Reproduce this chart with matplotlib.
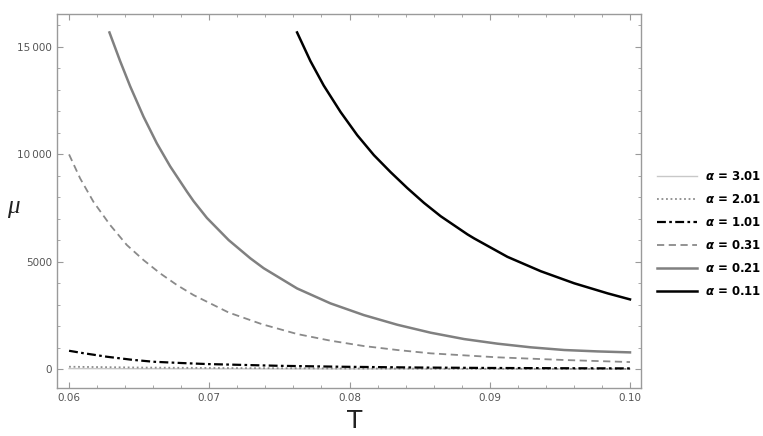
import numpy as np
import matplotlib
matplotlib.use('Agg')
import matplotlib.pyplot as plt
from matplotlib.ticker import FixedLocator, MultipleLocator

# values (T, mu) for each alpha
t_011 = [0.07626, 0.07721, 0.07816, 0.07936, 0.08055, 0.08174, 0.08293, 0.08412,
         0.08531, 0.0865, 0.08841, 0.08888, 0.09126, 0.09364, 0.09602, 0.09841, 0.1000]
mu_011 = [15660, 14330, 13190, 11960, 10880, 9950, 9160, 8420,
          7730, 7110, 6265, 6080, 5220, 4550, 3990, 3520, 3240]

t_021 = [0.06288, 0.06364, 0.06436, 0.06531, 0.06626, 0.06721, 0.06841, 0.06888, 0.06983,
         0.07138, 0.07293, 0.07388, 0.07626, 0.07864, 0.08102, 0.08341, 0.08579,
         0.08817, 0.09055, 0.09293, 0.09531, 0.09769, 0.1000]
mu_021 = [15660, 14330, 13150, 11740, 10500, 9430, 8250, 7810, 7030,
          6000, 5150, 4690, 3750, 3055, 2510, 2060, 1690,
          1395, 1180, 1010, 885, 820, 775]

t_031 = [0.0600, 0.06079, 0.06174, 0.06293, 0.06412, 0.06531, 0.0665, 0.06769, 0.06888,
         0.07007, 0.07138, 0.07376, 0.07626, 0.07864, 0.08102, 0.08341, 0.08579,
         0.09055, 0.09531, 0.1000]
mu_031 = [9985, 8870, 7780, 6700, 5770, 5070, 4450, 3910, 3440,
          3055, 2630, 2085, 1630, 1320, 1070, 885, 730,
          545, 420, 325]

t_101 = [0.0600, 0.0610, 0.0627, 0.0645, 0.0660, 0.0680, 0.0698, 0.0750, 0.0794,
         0.0850, 0.0900, 0.0950, 0.1000]
mu_101 = [850, 740, 572, 430, 340, 280, 233, 150, 107, 70, 50, 38, 30]

t_201 = [0.0600, 0.0650, 0.0700, 0.0800, 0.0900, 0.1000]
mu_201 = [107, 70, 50, 25, 12, 6]

t_301 = [0.0600, 0.0700, 0.0800, 0.0900, 0.1000]
mu_301 = [20, 10, 5, 3, 2]

labels = ['3.01', '2.01', '1.01', '0.31', '0.21', '0.11']

plt.rcParams['mathtext.fontset'] = 'dejavusans'

fig = plt.figure(figsize=(7.63, 4.36), dpi=100)
ax = fig.add_axes([0.0747, 0.110, 0.7655, 0.858])

frame = '#9a9a9a'
tick_col = '#555555'

ax.plot(t_301, mu_301, color='#c8c8c8', lw=1.0, linestyle='-')
ax.plot(t_201, mu_201, color='#8c8c8c', lw=1.3, linestyle=(0, (1, 1.5)))
ax.plot(t_101, mu_101, color='black', lw=1.6, linestyle=(0, (4, 1.5, 1.2, 1.5)))
ax.plot(t_031, mu_031, color='#8a8a8a', lw=1.3, linestyle=(0, (4, 2.5)))
ax.plot(t_021, mu_021, color='#808080', lw=1.8, linestyle='-')
ax.plot(t_011, mu_011, color='black', lw=1.8, linestyle='-')

ax.set_xlim(0.05914, 0.10079)
ax.set_ylim(-884, 16520)

ax.xaxis.set_major_locator(FixedLocator([0.06, 0.07, 0.08, 0.09, 0.10]))
ax.xaxis.set_minor_locator(MultipleLocator(0.002))
ax.set_xticklabels(['0.06', '0.07', '0.08', '0.09', '0.10'])
ax.yaxis.set_major_locator(FixedLocator([0, 5000, 10000, 15000]))
ax.yaxis.set_minor_locator(MultipleLocator(1000))
ax.set_yticklabels(['0', '5000', '10\u2009000', '15\u2009000'])

ax.tick_params(which='both', direction='in', top=True, right=True,
               color=frame, labelcolor=tick_col, labelsize=7.5)
ax.tick_params(which='major', length=4, width=0.8)
ax.tick_params(which='minor', length=2, width=0.6)
for s in ax.spines.values():
    s.set_color(frame)
    s.set_linewidth(1.0)

fig.text(0.465, 0.034, 'T', fontsize=18, color='#222222', ha='center', va='center')
fig.text(0.017, 0.525, '\u03bc', fontsize=18, color='#222222', ha='center', va='center',
         family='Liberation Serif', style='italic')

handles = ax.get_lines()
leg_labels = [r'$\boldsymbol{\alpha}$ = ' + l for l in labels]
leg = fig.legend(handles, leg_labels, loc='center left', bbox_to_anchor=(0.861, 0.463),
                 frameon=False, borderpad=0, borderaxespad=0,
                 handlelength=3.4, handletextpad=0.7, labelspacing=0.85,
                 prop={'weight': 'bold', 'size': 8.5})

fig.savefig('out.png', dpi=100)
